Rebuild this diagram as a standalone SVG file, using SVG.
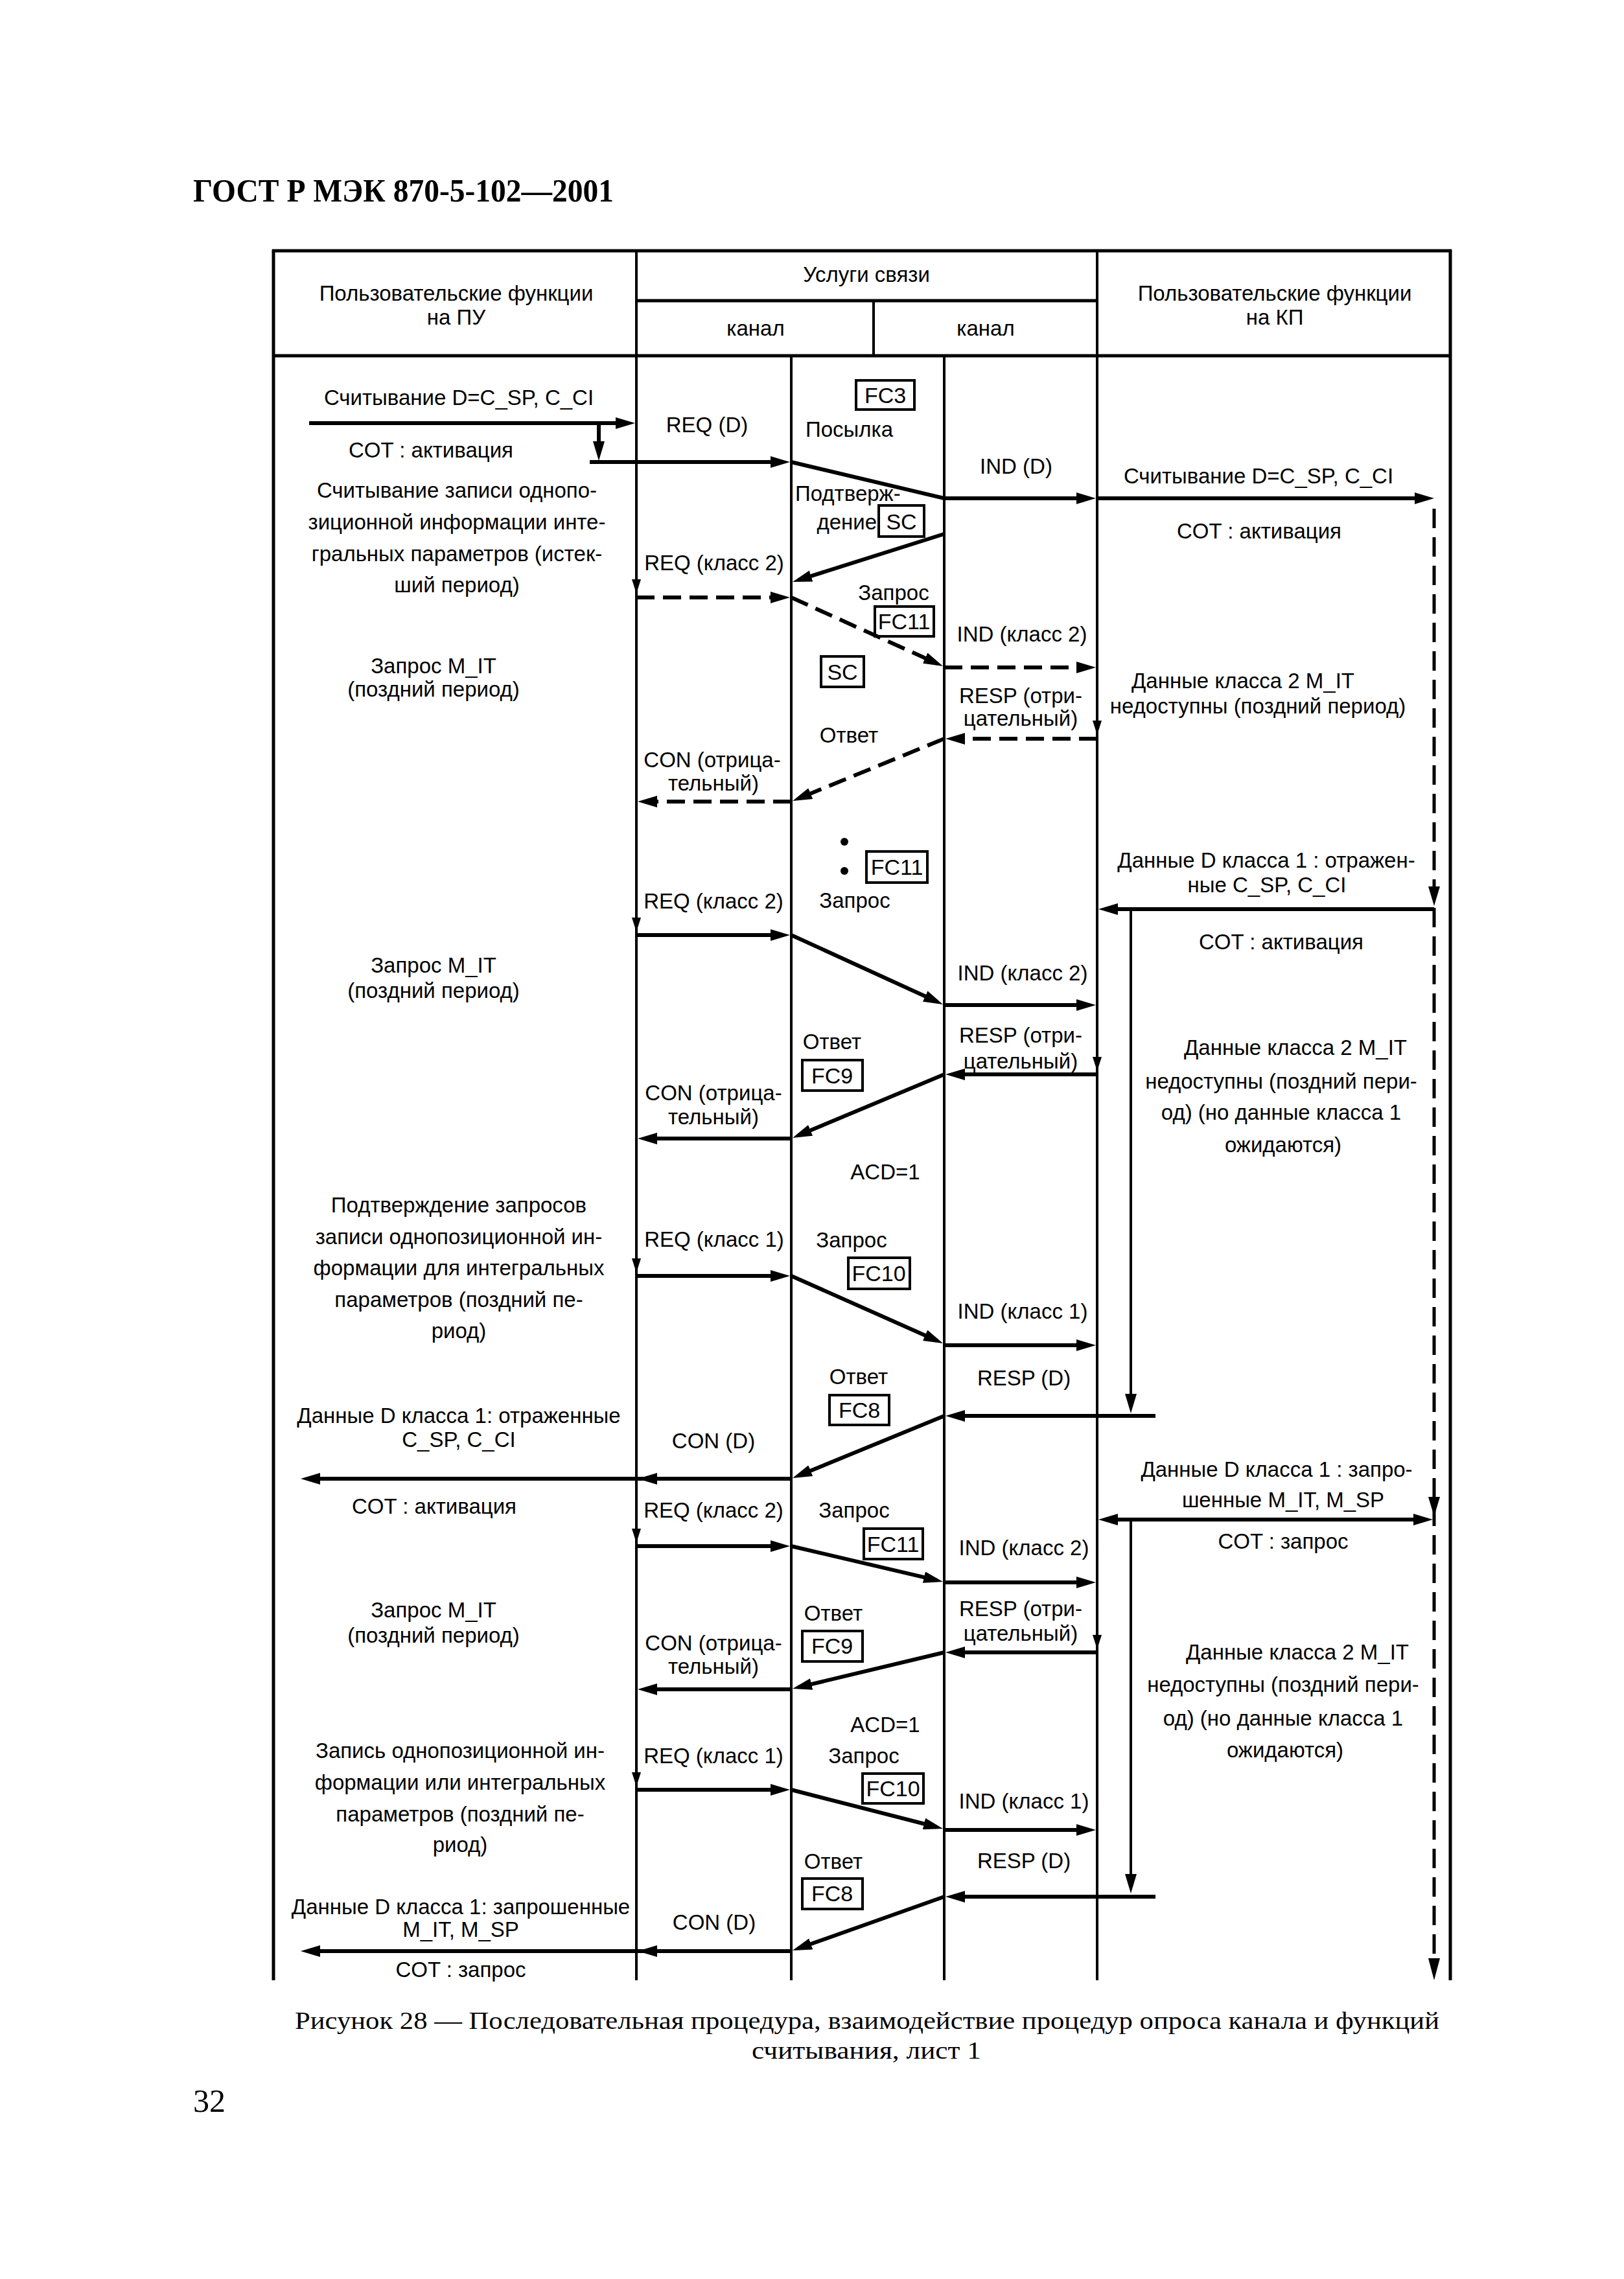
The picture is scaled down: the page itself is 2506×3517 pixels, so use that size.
<svg xmlns="http://www.w3.org/2000/svg" width="2506" height="3517" viewBox="0 0 2506 3517">
<style>
text{font-family:"Liberation Sans",Arial,sans-serif;font-size:33px;fill:#000}
.c{text-anchor:middle}
.r{text-anchor:end}
.fc{font-size:34px}
.ser{font-family:"Liberation Serif","Times New Roman",serif}
.ttl{font-size:50px;font-weight:bold}
.cap{font-size:38px}
.pg{font-size:50px}
.ln{stroke:#000;stroke-width:4;fill:none}
.bd{stroke:#000;stroke-width:5;fill:none}
.ar{stroke:#000;stroke-width:6;fill:none;marker-end:url(#ah)}
.da{stroke:#000;stroke-width:6;fill:none;stroke-dasharray:28 13;marker-end:url(#ah)}
.vd{stroke:#000;stroke-width:5;fill:none;stroke-dasharray:30 14}
.bx{stroke:#000;stroke-width:4;fill:#fff}
.hd{fill:#000}
</style>
<defs>
<marker id="ah" viewBox="0 0 30 18" refX="20" refY="9" markerWidth="30" markerHeight="18" markerUnits="userSpaceOnUse" orient="auto-start-reverse"><path d="M0,0L30,9L0,18z"/></marker>
</defs>
<rect width="2506" height="3517" fill="#fff"/>
<text id="title" class="ser ttl" x="298" y="311" textLength="649" lengthAdjust="spacingAndGlyphs">ГОСТ Р МЭК 870-5-102—2001</text>

<g id="table">
<line class="bd" x1="420" y1="387" x2="2240" y2="387"/>
<line class="bd" x1="422" y1="385" x2="422" y2="3056"/>
<line class="bd" x1="2238" y1="385" x2="2238" y2="3056"/>
<line class="bd" x1="420" y1="549" x2="2240" y2="549"/>
<line class="bd" x1="982" y1="464" x2="1693" y2="464"/>
<line class="ln" x1="1348" y1="464" x2="1348" y2="549"/>
<line class="ln" x1="982" y1="387" x2="982" y2="3056"/>
<line class="ln" x1="1693" y1="387" x2="1693" y2="3056"/>
<line class="ln" x1="1221" y1="549" x2="1221" y2="3056"/>
<line class="ln" x1="1457" y1="549" x2="1457" y2="3056"/>
</g>

<g id="header">
<text class="c"><tspan x="704" y="464">Пользовательские функции</tspan><tspan x="704" y="501">на ПУ</tspan></text>
<text class="c" x="1337" y="435">Услуги связи</text>
<text class="c" x="1166" y="518">канал</text>
<text class="c" x="1521" y="518">канал</text>
<text class="c"><tspan x="1967" y="464">Пользовательские функции</tspan><tspan x="1967" y="501">на КП</tspan></text>
</g>

<g id="pu">
<text class="c" x="708" y="625">Считывание D=C_SP, C_CI</text>
<text class="c" x="665" y="706">COT : активация</text>
<text class="c"><tspan x="705" y="768">Считывание записи однопо-</tspan><tspan x="705" y="817">зиционной информации инте-</tspan><tspan x="705" y="866">гральных параметров (истек-</tspan><tspan x="705" y="914">ший период)</tspan></text>
<text class="c"><tspan x="669" y="1039">Запрос M_IT</tspan><tspan x="669" y="1075">(поздний период)</tspan></text>
<text class="c"><tspan x="669" y="1501">Запрос M_IT</tspan><tspan x="669" y="1540">(поздний период)</tspan></text>
<text class="c"><tspan x="708" y="1871">Подтверждение запросов</tspan><tspan x="708" y="1920">записи однопозиционной ин-</tspan><tspan x="708" y="1968">формации для интегральных</tspan><tspan x="708" y="2017">параметров (поздний пе-</tspan><tspan x="708" y="2065">риод)</tspan></text>
<text class="c"><tspan x="708" y="2196">Данные D класса 1: отраженные</tspan><tspan x="708" y="2233">C_SP, C_CI</tspan></text>
<text class="c" x="670" y="2336">COT : активация</text>
<text class="c"><tspan x="669" y="2496">Запрос M_IT</tspan><tspan x="669" y="2535">(поздний период)</tspan></text>
<text class="c"><tspan x="710" y="2713">Запись однопозиционной ин-</tspan><tspan x="710" y="2762">формации или интегральных</tspan><tspan x="710" y="2811">параметров (поздний пе-</tspan><tspan x="710" y="2858">риод)</tspan></text>
<text class="c"><tspan x="711" y="2954">Данные D класса 1: запрошенные</tspan><tspan x="711" y="2989">M_IT, M_SP</tspan></text>
<text class="c" x="711" y="3051">COT : запрос</text>
</g>

<g id="link-pu">
<text class="c" x="1091" y="667">REQ (D)</text>
<text class="c" x="1102" y="880">REQ (класс 2)</text>
<text class="c"><tspan x="1099" y="1184">CON (отрица-</tspan><tspan x="1101" y="1220">тельный)</tspan></text>
<text class="c" x="1101" y="1402">REQ (класс 2)</text>
<text class="c"><tspan x="1101" y="1698">CON (отрица-</tspan><tspan x="1101" y="1735">тельный)</tspan></text>
<text class="c" x="1102" y="1924">REQ (класс 1)</text>
<text class="c" x="1101" y="2235">CON (D)</text>
<text class="c" x="1101" y="2342">REQ (класс 2)</text>
<text class="c"><tspan x="1101" y="2547">CON (отрица-</tspan><tspan x="1101" y="2583">тельный)</tspan></text>
<text class="c" x="1101" y="2721">REQ (класс 1)</text>
<text class="c" x="1102" y="2978">CON (D)</text>
</g>

<g id="frames">
<rect class="bx" x="1321" y="587" width="90" height="45"/><text class="c fc" x="1366" y="622">FC3</text>
<text x="1243" y="674">Посылка</text>
<text x="1227" y="773">Подтверж-</text>
<text class="r" x="1353" y="817">дение</text>
<rect class="bx" x="1356" y="780" width="70" height="48"/><text class="c fc" x="1391" y="817">SC</text>
<text class="c" x="1379" y="926">Запрос</text>
<rect class="bx" x="1350" y="936" width="91" height="46"/><text class="c fc" x="1395" y="971">FC11</text>
<rect class="bx" x="1267" y="1013" width="66" height="47"/><text class="c fc" x="1300" y="1049">SC</text>
<text class="c" x="1310" y="1146">Ответ</text>
<circle cx="1303" cy="1299" r="6"/>
<circle cx="1303" cy="1344" r="6"/>
<rect class="bx" x="1337" y="1314" width="94" height="48"/><text class="c fc" x="1384" y="1350">FC11</text>
<text class="c" x="1319" y="1401">Запрос</text>
<text class="c" x="1284" y="1619">Ответ</text>
<rect class="bx" x="1238" y="1636" width="93" height="47"/><text class="c fc" x="1284" y="1672">FC9</text>
<text class="c" x="1366" y="1820">ACD=1</text>
<text class="c" x="1314" y="1925">Запрос</text>
<rect class="bx" x="1309" y="1941" width="95" height="48"/><text class="c fc" x="1356" y="1977">FC10</text>
<text class="c" x="1325" y="2136">Ответ</text>
<rect class="bx" x="1280" y="2153" width="92" height="46"/><text class="c fc" x="1326" y="2188">FC8</text>
<text class="c" x="1318" y="2342">Запрос</text>
<rect class="bx" x="1333" y="2359" width="91" height="47"/><text class="c fc" x="1378" y="2395">FC11</text>
<text class="c" x="1286" y="2501">Ответ</text>
<rect class="bx" x="1238" y="2517" width="93" height="47"/><text class="c fc" x="1284" y="2552">FC9</text>
<text class="c" x="1366" y="2673">ACD=1</text>
<text class="c" x="1333" y="2721">Запрос</text>
<rect class="bx" x="1331" y="2737" width="94" height="46"/><text class="c fc" x="1378" y="2772">FC10</text>
<text class="c" x="1286" y="2884">Ответ</text>
<rect class="bx" x="1238" y="2899" width="93" height="47"/><text class="c fc" x="1284" y="2934">FC8</text>
</g>

<g id="link-kp">
<text class="c" x="1568" y="731">IND (D)</text>
<text class="c" x="1577" y="990">IND (класс 2)</text>
<text class="c"><tspan x="1575" y="1085">RESP (отри-</tspan><tspan x="1575" y="1120">цательный)</tspan></text>
<text class="c" x="1578" y="1513">IND (класс 2)</text>
<text class="c"><tspan x="1575" y="1609">RESP (отри-</tspan><tspan x="1575" y="1649">цательный)</tspan></text>
<text class="c" x="1578" y="2035">IND (класс 1)</text>
<text class="c" x="1580" y="2138">RESP (D)</text>
<text class="c" x="1580" y="2400">IND (класс 2)</text>
<text class="c"><tspan x="1575" y="2494">RESP (отри-</tspan><tspan x="1575" y="2532">цательный)</tspan></text>
<text class="c" x="1580" y="2791">IND (класс 1)</text>
<text class="c" x="1580" y="2883">RESP (D)</text>
</g>

<g id="kp">
<text class="c" x="1942" y="746">Считывание D=C_SP, C_CI</text>
<text class="c" x="1943" y="831">COT : активация</text>
<text class="c"><tspan x="1918" y="1062">Данные класса 2 M_IT</tspan><tspan x="1941" y="1101">недоступны (поздний период)</tspan></text>
<text class="c"><tspan x="1954" y="1339">Данные D класса 1 : отражен-</tspan><tspan x="1955" y="1377">ные C_SP, C_CI</tspan></text>
<text class="c" x="1977" y="1465">COT : активация</text>
<text class="c"><tspan x="1999" y="1628">Данные класса 2 M_IT</tspan><tspan x="1977" y="1680">недоступны (поздний пери-</tspan><tspan x="1977" y="1728">од) (но данные класса 1</tspan><tspan x="1980" y="1778">ожидаются)</tspan></text>
<text class="c"><tspan x="1970" y="2279">Данные D класса 1 : запро-</tspan><tspan x="1980" y="2326">шенные M_IT, M_SP</tspan></text>
<text class="c" x="1980" y="2390">COT : запрос</text>
<text class="c"><tspan x="2002" y="2561">Данные класса 2 M_IT</tspan><tspan x="1980" y="2611">недоступны (поздний пери-</tspan><tspan x="1980" y="2663">од) (но данные класса 1</tspan><tspan x="1983" y="2712">ожидаются)</tspan></text>
</g>

<g id="connectors">
<line class="ar" x1="477" y1="653" x2="970" y2="653"/>
<line class="ar" x1="924" y1="653" x2="924" y2="701"/>
<line class="ar" x1="910" y1="713" x2="1209" y2="713"/>
<polyline class="ar" points="1221,713 1457,769 1681,769"/>
<line class="ar" x1="1693" y1="769" x2="2203" y2="769"/>
<line class="ar" x1="1457" y1="824" x2="1232.5" y2="895"/>
<line class="da" x1="982" y1="922" x2="1209" y2="922"/>
<line class="da" x1="1221" y1="922" x2="1445.9" y2="1023.9"/>
<line class="da" x1="1457" y1="1030" x2="1681" y2="1030"/>
<line class="da" x1="1693" y1="1140" x2="1469" y2="1140"/>
<line class="da" x1="1457" y1="1140" x2="1232.3" y2="1232.2"/>
<line class="da" x1="1221" y1="1237" x2="994" y2="1237"/>
<line class="ar" x1="982" y1="1443" x2="1209" y2="1443"/>
<line class="ar" x1="1221" y1="1443" x2="1445.9" y2="1545.8"/>
<line class="ar" x1="1457" y1="1551" x2="1681" y2="1551"/>
<line class="ar" x1="2213" y1="1403" x2="1705" y2="1403"/>
<line class="ar" x1="1745" y1="1403" x2="1745" y2="2171" style="stroke-width:4"/>
<line class="ar" x1="1693" y1="1658" x2="1469" y2="1658"/>
<line class="ar" x1="1457" y1="1658" x2="1232.2" y2="1752.1"/>
<line class="ar" x1="1221" y1="1757" x2="994" y2="1757"/>
<line class="ar" x1="982" y1="1969" x2="1209" y2="1969"/>
<line class="ar" x1="1221" y1="1969" x2="1445.9" y2="2068.9"/>
<line class="ar" x1="1457" y1="2076" x2="1681" y2="2076"/>
<line class="ar" x1="1783" y1="2185" x2="1469" y2="2185"/>
<line class="ar" x1="1457" y1="2185" x2="1232.3" y2="2277.2"/>
<line class="ar" x1="1221" y1="2282" x2="474" y2="2282"/>
<path class="hd" d="M984,2282L1014,2273L1014,2291z"/>
<line class="ar" x1="982" y1="2386" x2="1209" y2="2386"/>
<line class="ar" x1="1221" y1="2386" x2="1445.3" y2="2438.7"/>
<line class="ar" x1="1457" y1="2442" x2="1681" y2="2442"/>
<line class="ar" x1="1705" y1="2345" x2="2201" y2="2345" style="marker-start:url(#ah)"/>
<line class="ar" x1="1745" y1="2345" x2="1745" y2="2912" style="stroke-width:4"/>
<line class="ar" x1="1693" y1="2550" x2="1469" y2="2550"/>
<line class="ar" x1="1457" y1="2550" x2="1232.7" y2="2603.7"/>
<line class="ar" x1="1221" y1="2607" x2="994" y2="2607"/>
<line class="ar" x1="982" y1="2762" x2="1209" y2="2762"/>
<line class="ar" x1="1221" y1="2762" x2="1445.3" y2="2819.5"/>
<line class="ar" x1="1457" y1="2824" x2="1681" y2="2824"/>
<line class="ar" x1="1783" y1="2927" x2="1469" y2="2927"/>
<line class="ar" x1="1457" y1="2927" x2="1232.4" y2="3006.7"/>
<line class="ar" x1="1221" y1="3011" x2="474" y2="3011"/>
<path class="hd" d="M984,3011L1014,3002L1014,3020z"/>
<line class="vd" x1="2213" y1="785" x2="2213" y2="3030"/>
<path class="hd" d="M2204,1368L2222,1368L2213,1398z"/>
<path class="hd" d="M2204,2310L2222,2310L2213,2340z"/>
<path class="hd" d="M2204,3022L2222,3022L2213,3056z"/>
<path class="hd" d="M975,894L989,894L982,916z"/>
<path class="hd" d="M975,1416L989,1416L982,1438z"/>
<path class="hd" d="M975,1942L989,1942L982,1964z"/>
<path class="hd" d="M975,2359L989,2359L982,2381z"/>
<path class="hd" d="M975,2735L989,2735L982,2757z"/>
<path class="hd" d="M1686,1112L1700,1112L1693,1134z"/>
<path class="hd" d="M1686,1631L1700,1631L1693,1653z"/>
<path class="hd" d="M1686,2523L1700,2523L1693,2545z"/>
</g>

<g id="caption">
<text class="ser cap c" x="1338" y="3131" textLength="1766" lengthAdjust="spacingAndGlyphs">Рисунок 28 — Последовательная процедура, взаимодействие процедур опроса канала и функций</text>
<text class="ser cap c" x="1337" y="3177" textLength="354" lengthAdjust="spacingAndGlyphs">считывания, лист 1</text>
<text class="ser pg" x="298" y="3259">32</text>
</g>
</svg>
